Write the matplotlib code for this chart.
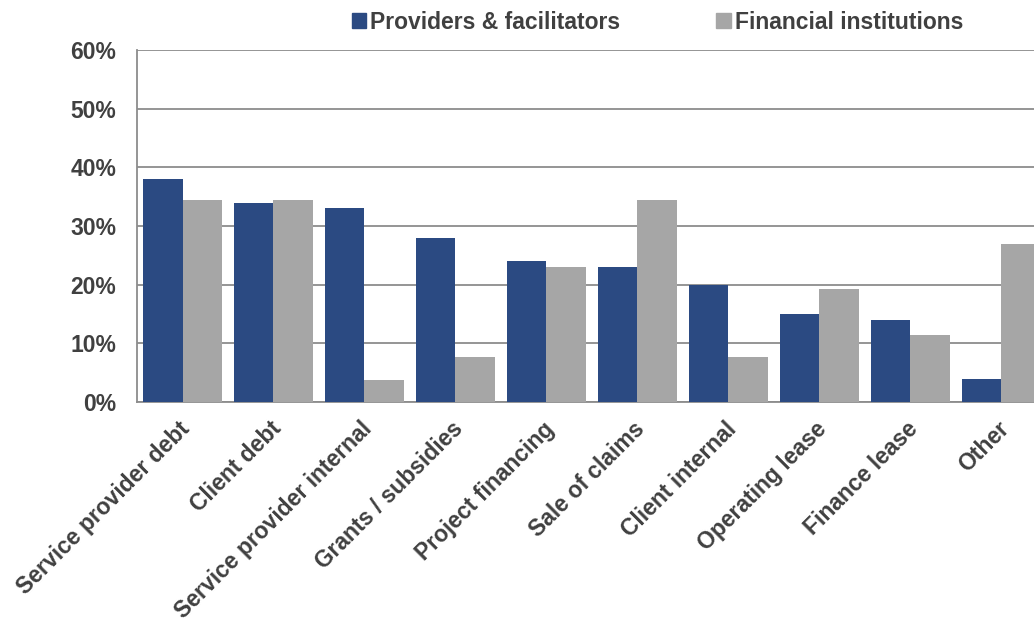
import numpy as np
import matplotlib
matplotlib.use("Agg")
import matplotlib.pyplot as plt
import matplotlib.transforms as mtransforms
from matplotlib.patches import Patch

# data
categories = ['Service provider debt', 'Client debt', 'Service provider internal',
              'Grants / subsidies', 'Project financing', 'Sale of claims',
              'Client internal', 'Operating lease', 'Finance lease', 'Other']
providers = [38, 34, 33, 28, 24, 23, 20, 15, 14, 4]
institutions = [34.5, 34.5, 3.8, 7.6, 23, 34.5, 7.6, 19.2, 11.5, 26.9]
yticks = [0, 10, 20, 30, 40, 50, 60]

dark = '#2B4A82'
grey = '#A6A6A6'
txt = '#404040'

plt.rcParams['font.family'] = ['Liberation Sans', 'DejaVu Sans']
plt.rcParams['font.weight'] = 'bold'

fig = plt.figure(figsize=(10.34, 6.22), dpi=100)
ax = fig.add_axes([0.1325, 0.3537, 0.88, 0.5659])

x = np.arange(len(categories))
w = 0.43
ax.bar(x - w / 2, providers, w, color=dark, zorder=3)
ax.bar(x + w / 2, institutions, w, color=grey, zorder=3)

ax.set_xlim(-0.5, 9.5)
ax.set_ylim(0, 60)
ax.set_yticks(yticks)
ax.set_yticklabels([f'{t}%' for t in yticks], fontsize=16.5, color=txt, fontweight='bold')
ax.yaxis.grid(True, color='#8C8C8C', linewidth=1.3, zorder=0)
ax.tick_params(axis='y', length=0, pad=15)
ax.tick_params(axis='x', length=0, pad=11)
ax.set_xticks(x)
ax.set_xticklabels(categories, rotation=45, ha='right', rotation_mode='anchor',
                   fontsize=16.5, color=txt, fontweight='bold')
shift = mtransforms.ScaledTranslation(-0.04, 0, fig.dpi_scale_trans)
for lab in ax.get_xticklabels():
    lab.set_transform(lab.get_transform() + shift)

for s in ['top', 'right']:
    ax.spines[s].set_visible(False)
for s in ['left', 'bottom']:
    ax.spines[s].set_color('#8C8C8C')
    ax.spines[s].set_linewidth(1.3)

handles = [Patch(color=dark, label='Providers & facilitators'),
           Patch(color=grey, label='Financial institutions')]
leg = fig.legend(handles=handles, loc='upper left', bbox_to_anchor=(0.320, 1.016),
                 ncol=2, frameon=False, handlelength=0.65, handleheight=0.65,
                 handletextpad=0.15, columnspacing=4.2, fontsize=16.5)
for t in leg.get_texts():
    t.set_color(txt)
    t.set_fontweight('bold')

fig.savefig('out.png', dpi=100)
